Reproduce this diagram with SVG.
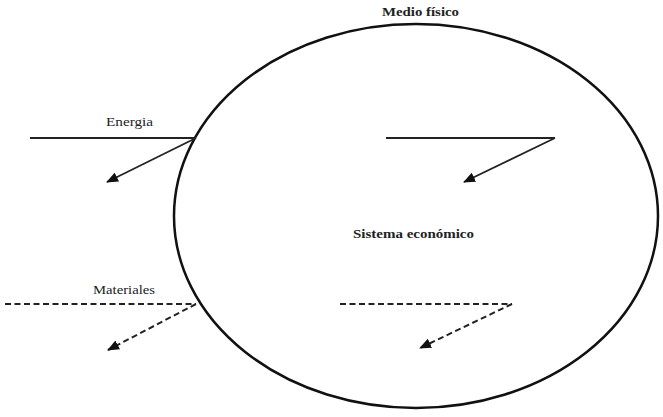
<svg xmlns="http://www.w3.org/2000/svg" width="663" height="417" viewBox="0 0 663 417">
<style>
.t{font-family:"Liberation Serif","Times New Roman","DejaVu Serif",serif;font-size:13px;fill:#222}
.b{font-weight:bold}
.l{stroke:#222;stroke-width:1.8;fill:none}
.d{stroke-dasharray:6,3.5;stroke-width:2}
</style>
<defs>
<marker id="ah" markerWidth="12" markerHeight="10" refX="11" refY="5" orient="auto" markerUnits="userSpaceOnUse">
<path d="M0,0 L12,5 L0,10 Z" fill="#111"/>
</marker>
</defs>
<rect width="663" height="417" fill="#fff"/>
<g id="medio">
<ellipse cx="416" cy="216" rx="242" ry="192" fill="none" stroke="#111" stroke-width="2.5"/>
<text class="t b" x="382" y="16" textLength="77" lengthAdjust="spacingAndGlyphs">Medio físico</text>
<text class="t b" x="353" y="238" textLength="121" lengthAdjust="spacingAndGlyphs">Sistema económico</text>
</g>
<g id="energia">
<text class="t" x="106" y="126" textLength="47" lengthAdjust="spacingAndGlyphs">Energia</text>
</g>
<g id="materiales">
<text class="t" x="93" y="294" textLength="62" lengthAdjust="spacingAndGlyphs">Materiales</text>
</g>
<g id="connectors">
<line class="l" x1="30" y1="138" x2="196" y2="138"/>
<line class="l" x1="196" y1="138" x2="107" y2="182" marker-end="url(#ah)"/>
<line class="l" x1="386" y1="138" x2="555" y2="138"/>
<line class="l" x1="555" y1="138" x2="464" y2="182" marker-end="url(#ah)"/>
<line class="l d" x1="5" y1="304" x2="196" y2="304"/>
<line class="l d" x1="196" y1="304" x2="108" y2="350" marker-end="url(#ah)"/>
<line class="l d" x1="340" y1="304" x2="512" y2="304"/>
<line class="l d" x1="512" y1="304" x2="420" y2="348" marker-end="url(#ah)"/>
</g>
</svg>
